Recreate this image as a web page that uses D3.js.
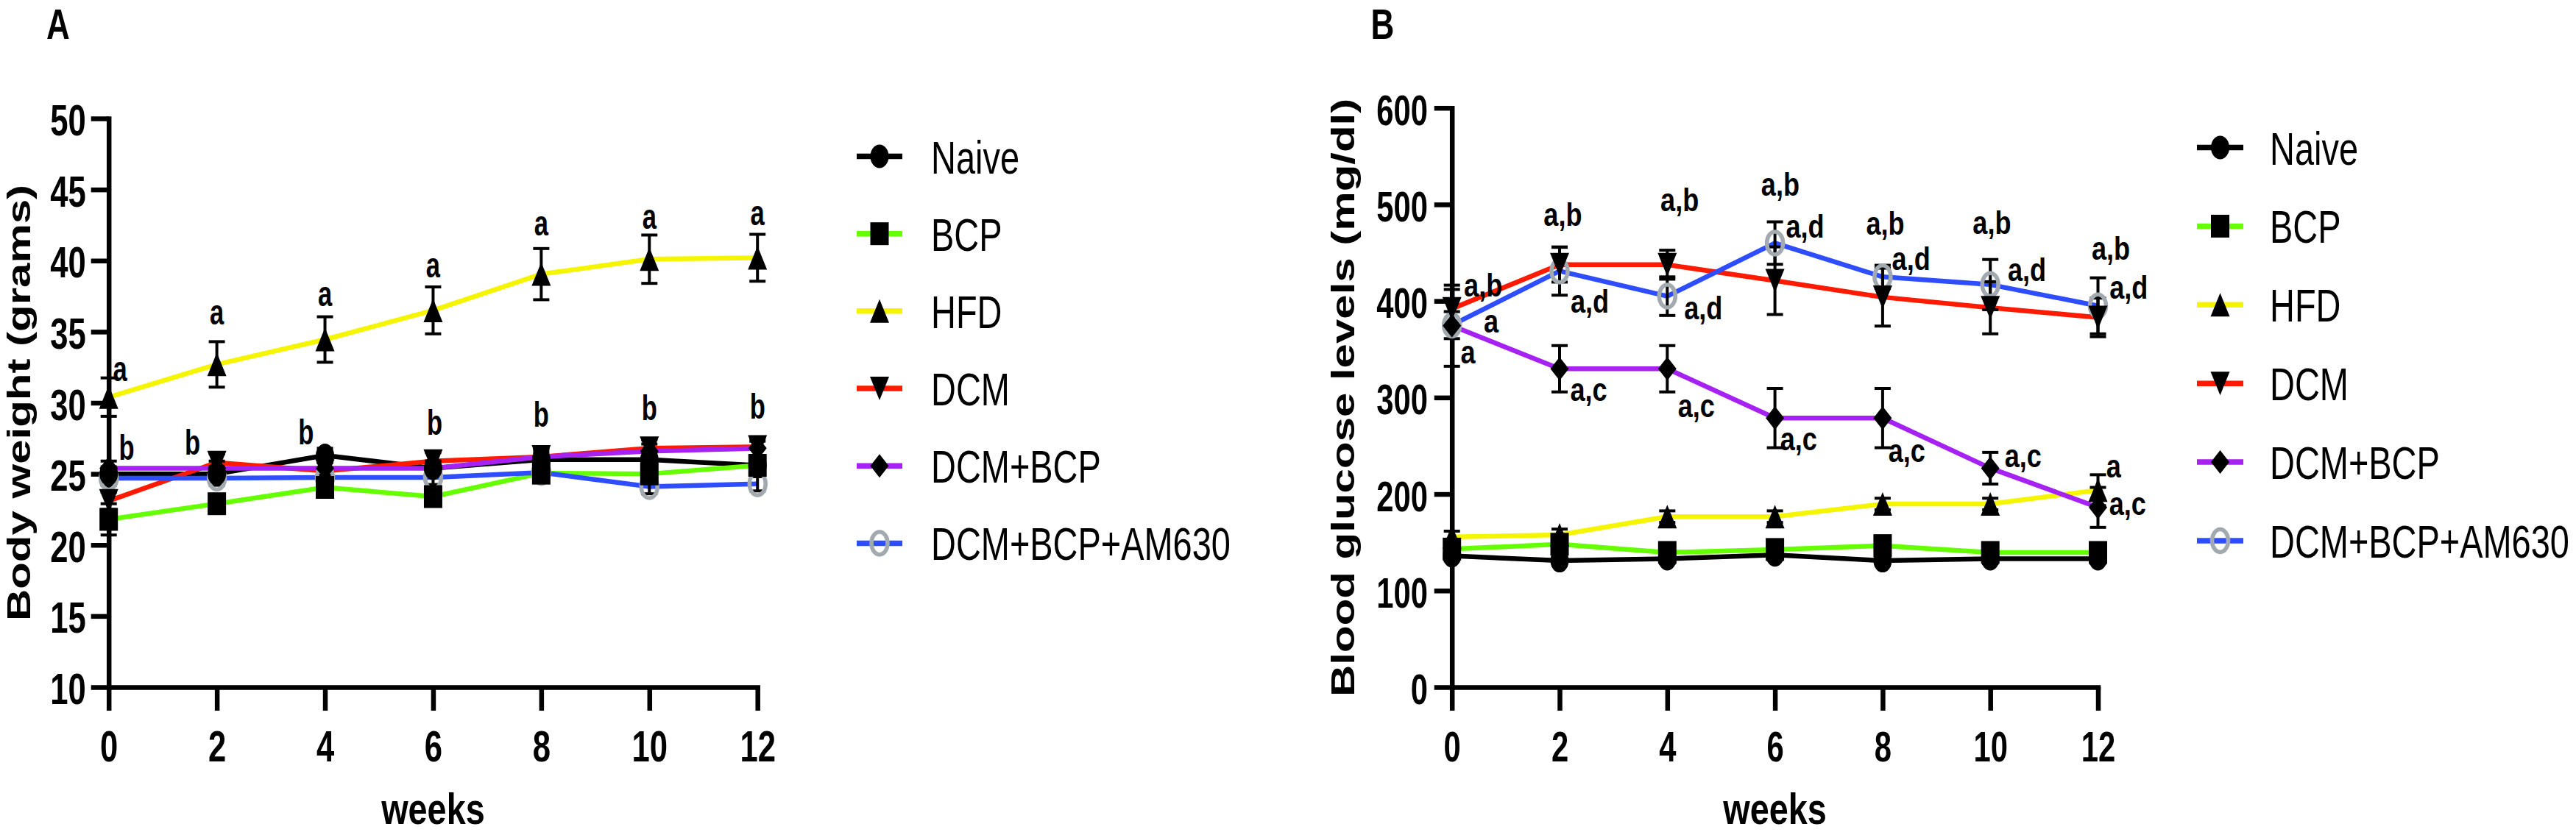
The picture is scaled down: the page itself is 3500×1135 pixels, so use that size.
<!DOCTYPE html>
<html>
<head>
<meta charset="utf-8">
<script src="https://cdn.jsdelivr.net/npm/d3@7"></script>
<style>
  html, body { margin: 0; padding: 0; background: #fff; }
  svg { display: block; }
  text { font-family: "Liberation Sans", Arial, Helvetica, sans-serif; fill: #000; }
</style>
</head>
<body>
<svg id="chart" width="3500" height="1135"></svg>
<script>
// ---------------- DATA ----------------
const weeks = [0, 2, 4, 6, 8, 10, 12];
const groups = ["Naive", "BCP", "HFD", "DCM", "DCM+BCP", "DCM+BCP+AM630"];

// Panel A: body weight (grams), mean and SEM
const weightNaive  = [25.0, 25.0, 26.3, 25.4, 26.0, 26.0, 25.6];
const weightBCP    = [21.8, 22.9, 24.05, 23.4, 25.05, 25.0, 25.6];
const weightHFD    = [30.4, 32.7, 34.45, 36.5, 39.05, 40.1, 40.2];
const weightDCM    = [23.1, 25.8, 25.2, 25.9, 26.2, 26.8, 26.9];
const weightDCMBCP = [25.4, 25.4, 25.4, 25.4, 26.2, 26.6, 26.8];
const weightAM630  = [24.7, 24.7, 24.75, 24.75, 25.1, 24.1, 24.3];

const semWeightNaive  = [0.5, 0.5, 0.5, 0.5, 0.5, 0.5, 0.5];
const semWeightBCP    = [1.1, 0.6, 0.6, 0.6, 0.6, 0.6, 0.6];
const semWeightHFD    = [1.35, 1.6, 1.6, 1.65, 1.8, 1.7, 1.65];
const semWeightDCM    = [0.6, 0.6, 0.6, 0.6, 0.6, 0.6, 0.6];
const semWeightDCMBCP = [0.5, 0.5, 0.5, 0.5, 0.5, 0.5, 0.5];
const semWeightAM630  = [0.5, 0.5, 0.5, 0.5, 0.5, 0.5, 0.5];

// Panel B: blood glucose (mg/dl), mean and SEM
const glucoseNaive  = [136, 131, 133, 137, 131, 133, 133];
const glucoseBCP    = [143, 148, 139.5, 142.6, 146.6, 139.5, 139.5];
const glucoseHFD    = [155.6, 157.7, 176.6, 176.6, 189.7, 189.7, 204];
const glucoseDCM    = [392, 437.6, 437.6, 421, 404, 393, 383];
const glucoseDCMBCP = [374.4, 329.8, 329.8, 278.7, 278.7, 226.8, 186.2];
const glucoseAM630  = [375, 431, 405, 460, 425, 417, 395];

const semGlucoseNaive  = [5, 5, 5, 5, 5, 5, 5];
const semGlucoseBCP    = [5, 5, 5, 5, 5, 5, 5];
const semGlucoseHFD    = [6, 6, 6, 6, 6, 6, 16];
const semGlucoseDCM    = [20, 18, 15, 35, 30, 27, 20];
const semGlucoseDCMBCP = [42, 24, 24, 30.7, 30.7, 16.4, 20.7];
const semGlucoseAM630  = [14, 25, 20, 22, 12, 26, 29];

// Tick labels
const xTicks = [0, 2, 4, 6, 8, 10, 12];
const yTicksA = [10, 15, 20, 25, 30, 35, 40, 45, 50];
const yTicksB = [0, 100, 200, 300, 400, 500, 600];

// Significance letters: [week, week-offset, value at text baseline, text]
const lettersA = [
  [0, 0.21, 31.55, "a"], [2, 0, 35.5, "a"], [4, 0, 36.8, "a"], [6, 0, 38.8, "a"],
  [8, 0, 41.76, "a"], [10, 0, 42.25, "a"], [12, 0, 42.5, "a"],
  [0, 0.33, 26.0, "b"], [2, -0.45, 26.37, "b"], [4, -0.35, 27.1, "b"], [6, 0.03, 27.75, "b"],
  [8, 0, 28.33, "b"], [10, 0, 28.8, "b"], [12, 0, 28.9, "b"]
];
const lettersB = [
  [0, 0.58, 405, "a,b"], [0, 0.73, 367.5, "a"], [0, 0.30, 335.4, "a"],
  [2, 0.06, 478, "a,b"], [2, 0.56, 388, "a,d"], [2, 0.54, 296.5, "a,c"],
  [4, 0.23, 493.4, "a,b"], [4, 0.67, 381, "a,d"], [4, 0.54, 279.8, "a,c"],
  [6, 0.10, 509, "a,b"], [6, 0.56, 465.5, "a,d"], [6, 0.44, 245.6, "a,c"],
  [8, 0.05, 468.5, "a,b"], [8, 0.53, 432, "a,d"], [8, 0.45, 233.4, "a,c"],
  [10, 0.03, 469.6, "a,b"], [10, 0.68, 421, "a,d"], [10, 0.61, 228, "a,c"],
  [12, 0.24, 442.6, "a,b"], [12, 0.57, 402.3, "a,d"], [12, 0.29, 216.9, "a"], [12, 0.55, 178.3, "a,c"]
];

// ---------------- STYLE ----------------
const lineColors = ["#000000", "#66ff00", "#f5f500", "#ff1a00", "#a522f2", "#2d4dff"];
const markerKinds = ["circle", "square", "triUp", "triDown", "diamond", "ring"];

const svg = d3.select("#chart");

function markerPath(kind) {
  const w = 12.5, h = 16;
  switch (kind) {
    case "circle": return `M${-w},0A${w},${h} 0 1,0 ${w},0A${w},${h} 0 1,0 ${-w},0Z`;
    case "square": return `M${-w},${-15.5}H${w}V${15.5}H${-w}Z`;
    case "triUp": return `M0,${-h}L${w + 0.5},${h}L${-w - 0.5},${h}Z`;
    case "triDown": return `M0,${h}L${w + 0.5},${-h}L${-w - 0.5},${-h}Z`;
    case "diamond": return `M0,${-h}L${w},0L0,${h}L${-w},0Z`;
    case "ring": return `M-11,0A11,15.5 0 1,0 11,0A11,15.5 0 1,0 -11,0Z`;
  }
}
function drawMarker(g, kind, x, y) {
  const p = g.append("path").attr("d", markerPath(kind)).attr("transform", `translate(${x},${y})`);
  if (kind === "ring") p.attr("fill", "none").attr("stroke", "#a2aaaf").attr("stroke-width", 5.5);
  else p.attr("fill", "#000");
}
function label(g, x, y, s, o) {
  return g.append("text")
    .attr("transform", `translate(${x},${y}) scale(${o.sx},1)` + (o.rot ? " rotate(-90)" : ""))
    .attr("text-anchor", o.anchor || "middle")
    .style("font-size", o.size + "px")
    .style("font-weight", o.weight || "bold")
    .text(s);
}

function panel(cfg) {
  const g = svg.append("g");
  const x = d3.scaleLinear().domain([0, 12]).range(cfg.xRange);
  const y = d3.scaleLinear().domain(cfg.yDomain).range(cfg.yRange);

  // axes
  const ax = g.append("g").attr("transform", `translate(0,${cfg.yRange[0]})`)
    .call(d3.axisBottom(x).tickValues(xTicks).tickSize(32).tickSizeOuter(0).tickFormat(d3.format("d")));
  const ay = g.append("g").attr("transform", `translate(${cfg.xRange[0]},0)`)
    .call(d3.axisLeft(y).tickValues(cfg.yTicks).tickSize(24).tickSizeOuter(0).tickFormat(d3.format("d")));
  [ax, ay].forEach(a => {
    a.select(".domain").attr("stroke", "#000").attr("stroke-width", 6.5).attr("stroke-linecap", "square");
    a.selectAll(".tick line").attr("stroke", "#000").attr("stroke-width", 6.5);
  });
  ax.selectAll(".tick text").attr("y", null).attr("dy", null)
    .attr("transform", `translate(0,101) scale(${cfg.tickSx},1)`)
    .attr("text-anchor", "middle").attr("fill", "#000")
    .style("font-size", cfg.tickSize + "px").style("font-weight", "bold")
    .style("font-family", '"Liberation Sans", Arial, sans-serif');
  ay.selectAll(".tick text").attr("x", null).attr("dy", null)
    .attr("transform", `translate(${cfg.tickLabelRight - cfg.xRange[0]},22.5) scale(${cfg.tickSx},1)`)
    .attr("text-anchor", "end").attr("fill", "#000")
    .style("font-size", cfg.tickSize + "px").style("font-weight", "bold")
    .style("font-family", '"Liberation Sans", Arial, sans-serif');

  // lines
  const line = d3.line().x((d, i) => x(weeks[i])).y(d => y(d));
  cfg.series.forEach((s, k) => {
    g.append("path").datum(s).attr("d", line).attr("fill", "none")
      .attr("stroke", lineColors[k]).attr("stroke-width", 6.5).attr("stroke-linejoin", "round");
  });
  // error bars
  const eb = g.append("g").attr("stroke", "#000").attr("stroke-width", 4);
  cfg.series.forEach((s, k) => {
    s.forEach((v, i) => {
      const e = cfg.sems[k][i];
      const cx = x(weeks[i]), y1 = y(v + e), y0 = y(v - e);
      eb.append("line").attr("x1", cx).attr("x2", cx).attr("y1", y1).attr("y2", y0);
      eb.append("line").attr("x1", cx - 11).attr("x2", cx + 11).attr("y1", y1).attr("y2", y1);
      eb.append("line").attr("x1", cx - 11).attr("x2", cx + 11).attr("y1", y0).attr("y2", y0);
    });
  });
  // markers (last group drawn first)
  const mg = g.append("g");
  for (let k = cfg.series.length - 1; k >= 0; k--) {
    cfg.series[k].forEach((v, i) => drawMarker(mg, markerKinds[k], x(weeks[i]), y(v)));
  }
  // letters
  cfg.letters.forEach(d => {
    label(g, x(d[0] + d[1]), y(d[2]), d[3], { size: cfg.letterSize, sx: cfg.letterSx });
  });

  // axis titles
  label(g, (cfg.xRange[0] + cfg.xRange[1]) / 2, 1120, "weeks", { size: 60, sx: 0.78 });
  label(g, cfg.yTitleX, (cfg.yRange[0] + cfg.yRange[1]) / 2, cfg.yTitle, { size: 60, sx: 0.75, rot: true });
  label(g, cfg.letterPos[0], 53, cfg.panelLetter, { size: 58, sx: 0.76 });

  // legend
  const ly = d3.scalePoint().domain(groups).range(cfg.legendY);
  groups.forEach((name, k) => {
    const yy = ly(name);
    g.append("line").attr("x1", cfg.legendX[0]).attr("x2", cfg.legendX[1]).attr("y1", yy).attr("y2", yy)
      .attr("stroke", lineColors[k]).attr("stroke-width", 7.5);
    drawMarker(g, markerKinds[k], (cfg.legendX[0] + cfg.legendX[1]) / 2, yy);
    label(g, cfg.legendTextX, yy + 23, name, { size: 63, sx: 0.745, weight: "normal", anchor: "start" });
  });
}

panel({
  xRange: [147.7, 1029.2], yDomain: [10, 50], yRange: [934, 161], yTicks: yTicksA,
  tickSize: 59, tickSx: 0.74, tickLabelRight: 116.7,
  series: [weightNaive, weightBCP, weightHFD, weightDCM, weightDCMBCP, weightAM630],
  sems: [semWeightNaive, semWeightBCP, semWeightHFD, semWeightDCM, semWeightDCMBCP, semWeightAM630],
  letters: lettersA, letterSize: 48, letterSx: 0.72,
  yTitle: "Body weight (grams)", yTitleX: 41,
  panelLetter: "A", letterPos: [79],
  legendY: [212.5, 738.4], legendX: [1164, 1226], legendTextX: 1265
});
panel({
  xRange: [1972.7, 2850.5], yDomain: [0, 600], yRange: [934, 146.7], yTicks: yTicksB,
  tickSize: 58, tickSx: 0.72, tickLabelRight: 1940,
  series: [glucoseNaive, glucoseBCP, glucoseHFD, glucoseDCM, glucoseDCMBCP, glucoseAM630],
  sems: [semGlucoseNaive, semGlucoseBCP, semGlucoseHFD, semGlucoseDCM, semGlucoseDCMBCP, semGlucoseAM630],
  letters: lettersB, letterSize: 44, letterSx: 0.82,
  yTitle: "Blood glucose levels (mg/dl)", yTitleX: 1840,
  panelLetter: "B", letterPos: [1878.5],
  legendY: [200.5, 735], legendX: [2985, 3048], legendTextX: 3084
});
</script>
</body>
</html>
